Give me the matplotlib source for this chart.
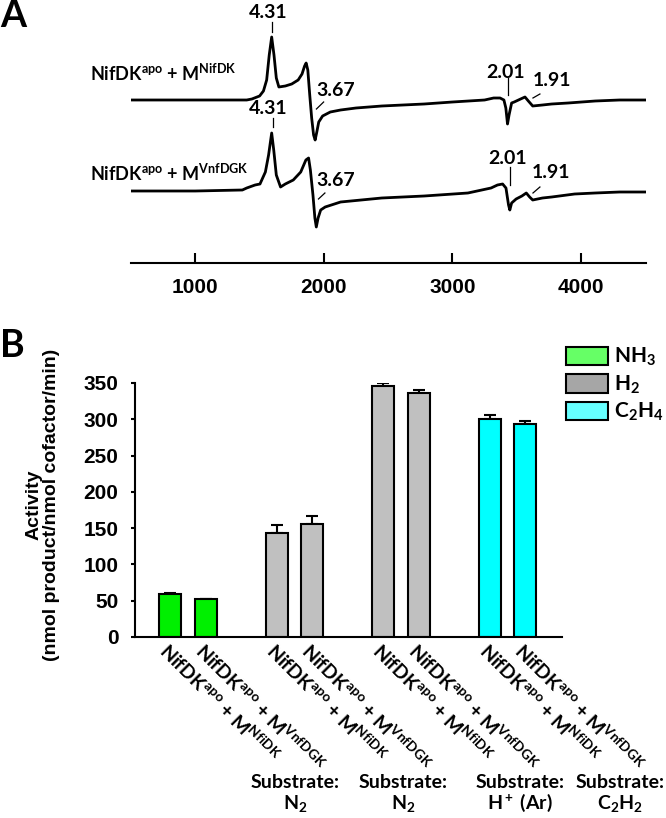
import matplotlib
matplotlib.use('Agg')
import matplotlib.pyplot as plt
from matplotlib.patches import Patch

plt.rcParams['mathtext.fontset'] = 'custom'
plt.rcParams['mathtext.rm'] = 'Lato:bold'
plt.rcParams['mathtext.bf'] = 'Lato:bold'
plt.rcParams['mathtext.it'] = 'Lato:bold'

# ---- panel A: EPR traces (field in G, signal in a.u.)
field1 = [500, 1000, 1400, 1440, 1500, 1530, 1555, 1575, 1594, 1612, 1630, 1650, 1700,
          1750, 1800, 1830, 1850, 1862, 1875, 1890, 1905, 1920, 1932, 1945, 1960, 1990,
          2050, 2130, 2250, 2450, 2780, 3000, 3250, 3320, 3370, 3400, 3415, 3428, 3440,
          3460, 3480, 3530, 3564, 3590, 3624, 3700, 3772, 3900, 4110, 4300, 4505]
sig1 = [0, 0, 0, 1, 4, 9, 20, 45, 63, 45, 22, 13, 14,
        16, 20, 26, 34, 37, 30, 5, -18, -35, -40, -32, -22, -16,
        -12, -10, -8, -6, -4, -2, 0, 2, 2, 0, -8, -24, -15,
        -3, -2, 1, 3, -1, -6, -5, -4, -3, -1, 0, 0]

field2 = [500, 1000, 1366, 1400, 1465, 1503, 1545, 1570, 1594, 1610, 1630, 1663, 1700,
          1762, 1820, 1860, 1881, 1895, 1915, 1930, 1941, 1955, 1975, 2010, 2130, 2450,
          2780, 3120, 3300, 3350, 3390, 3416, 3436, 3446, 3460, 3495, 3540, 3574, 3600,
          3624, 3700, 3772, 3950, 4110, 4300, 4505]
sig2 = [0, 0, 1, 3, 6, 7, 19, 36, 58, 41, 16, 4, 7,
        11, 19, 31, 33, 21, -4, -27, -36, -27, -19, -16, -11, -7,
        -5, -2, 3, 6, 7, 3, -14, -19, -12, -8, -5, -2, -6,
        -9, -7, -6, -3, -2, -1, -1]

trace_labels = [r"NifDK$^{\rm apo}$ + M$^{\rm NifDK}$", r"NifDK$^{\rm apo}$ + M$^{\rm VnfDGK}$"]
field_ticks = [1000, 2000, 3000, 4000]

# ---- panel B: activities
samples = [r"NifDK$^{\rm apo}$ + M$^{\rm NfiDK}$", r"NifDK$^{\rm apo}$ + M$^{\rm VnfDGK}$"] * 4
activity = [59, 52, 143, 156, 346, 336, 301, 293]
act_err = [1, 1, 11, 11, 4, 5, 5, 5]
product = ['NH3', 'NH3', 'H2', 'H2', 'H2', 'H2', 'C2H4', 'C2H4']
products = ['NH3', 'H2', 'C2H4']
product_labels = [r"NH$_{\rm 3}$", r"H$_{\rm 2}$", r"C$_{\rm 2}$H$_{\rm 4}$"]
bar_colors = {'NH3': '#00f000', 'H2': '#c0c0c0', 'C2H4': '#00ffff'}
legend_colors = {'NH3': '#66ff66', 'H2': '#a6a6a6', 'C2H4': '#66ffff'}
substrates = [r"N$_{\rm 2}$", r"N$_{\rm 2}$", r"H$^{\rm +}$ (Ar)", r"C$_{\rm 2}$H$_{\rm 2}$"]
positions = [0, 1, 3, 4, 6, 7, 9, 10]

W, H = 666, 818
fig = plt.figure(figsize=(W / 100, H / 100), dpi=100)

# panel A
ax1 = fig.add_axes([131 / W, 1 - 263 / H, (646 - 131) / W, 263 / H])
ax1.plot(field1, [s - 100 for s in sig1], color='black', lw=2.0)
ax1.plot(field2, [s - 191 for s in sig2], color='black', lw=2.0)
ax1.set_xlim(500, 4505)
ax1.set_ylim(-263, 0)
for s in ['top', 'right', 'left']:
    ax1.spines[s].set_visible(False)
ax1.spines['bottom'].set_linewidth(1.5)
ax1.set_yticks([])
ax1.set_xticks(field_ticks)
ax1.set_xticklabels([str(t) for t in field_ticks], fontsize=15, fontweight='bold',
                    family='Liberation Sans')
ax1.tick_params(axis='x', direction='in', length=7, width=1.5, pad=11)

lab = dict(fontsize=14, fontweight='bold', family='Lato', ha='center', va='center')
# top trace annotations
ax1.text(1565, -13, '4.31', **lab)
ax1.plot([1596, 1596], [-22, -32], color='black', lw=0.9)
ax1.text(2090, -91, '3.67', **lab)
ax1.plot([1942, 1998], [-109, -102], color='black', lw=0.9)
ax1.text(3416, -72, '2.01', **lab)
ax1.plot([3428, 3428], [-78, -95], color='black', lw=0.9)
ax1.text(3774, -80, '1.91', **lab)
ax1.plot([3626, 3680], [-98, -94], color='black', lw=0.9)
# bottom trace annotations
ax1.text(1565, -108, '4.31', **lab)
ax1.plot([1604, 1604], [-118, -127], color='black', lw=0.9)
ax1.text(2090, -180, '3.67', **lab)
ax1.plot([1958, 2008], [-199, -193], color='black', lw=0.9)
ax1.text(3428, -158, '2.01', **lab)
ax1.plot([3445, 3445], [-167, -185], color='black', lw=0.9)
ax1.text(3766, -173, '1.91', **lab)
ax1.plot([3626, 3680], [-193, -187], color='black', lw=0.9)

fig.text(90 / W, 1 - 73 / H, trace_labels[0], fontsize=13, fontweight='bold', family='Lato',
         ha='left', va='center')
fig.text(90 / W, 1 - 173 / H, trace_labels[1], fontsize=13, fontweight='bold', family='Lato',
         ha='left', va='center')
fig.text(0 / W, 1 - 16 / H, 'A', fontsize=27, fontweight='bold', family='Lato', ha='left', va='center')

# panel B
ax2 = fig.add_axes([135 / W, 1 - 637 / H, (562 - 135) / W, (637 - 383) / H])
ax2.bar(positions, activity, width=0.62, color=[bar_colors[p] for p in product],
        edgecolor='black', linewidth=1.5, zorder=2)
ax2.errorbar(positions, activity, yerr=[[0] * len(act_err), act_err], fmt='none',
             ecolor='black', elinewidth=1.5, capsize=4, capthick=1.5, zorder=1)
ax2.set_xlim(-1, 11.03)
ax2.set_ylim(0, 350)
ax2.set_yticks(range(0, 351, 50))
ax2.set_yticklabels([str(v) for v in range(0, 351, 50)], fontsize=15, fontweight='bold',
                    family='Liberation Sans')
ax2.tick_params(axis='y', direction='out', length=3, width=1.5, pad=9)
ax2.set_xticks(positions)
ax2.set_xticklabels(samples, rotation=-45, ha='left', va='top', rotation_mode='anchor',
                    fontsize=14, fontweight='bold', family='Lato')
ax2.tick_params(axis='x', length=0, pad=2)
for s in ['top', 'right']:
    ax2.spines[s].set_visible(False)
for s in ['left', 'bottom']:
    ax2.spines[s].set_linewidth(1.5)

fig.text(43 / W, 1 - 505 / H, "Activity\n(nmol product/nmol cofactor/min)", rotation=90,
         ha='center', va='center', fontsize=14, fontweight='bold', family='Liberation Sans',
         linespacing=1.05)
fig.text(0 / W, 1 - 346 / H, 'B', fontsize=27, fontweight='bold', family='Lato', ha='left', va='center')

handles = [Patch(facecolor=legend_colors[p], edgecolor='black', linewidth=1.5) for p in products]
ax2.legend(handles, product_labels, loc='upper left', bbox_to_anchor=(566 / W, 1 - 346 / H),
           bbox_transform=fig.transFigure, frameon=False, handlelength=2.0, handleheight=1.0,
           handletextpad=0.3, labelspacing=0.25, borderpad=0, borderaxespad=0,
           prop={'family': 'Lato', 'weight': 'bold', 'size': 15})

sub_x = [295, 403, 520, 620]
for x, s in zip(sub_x, substrates):
    fig.text(x / W, 1 - 782 / H, 'Substrate:', fontsize=14, fontweight='bold', family='Lato',
             ha='center', va='center')
    fig.text(x / W, 1 - 803 / H, s, fontsize=14, fontweight='bold', family='Lato',
             ha='center', va='center')

fig.savefig('out.png', dpi=100)
